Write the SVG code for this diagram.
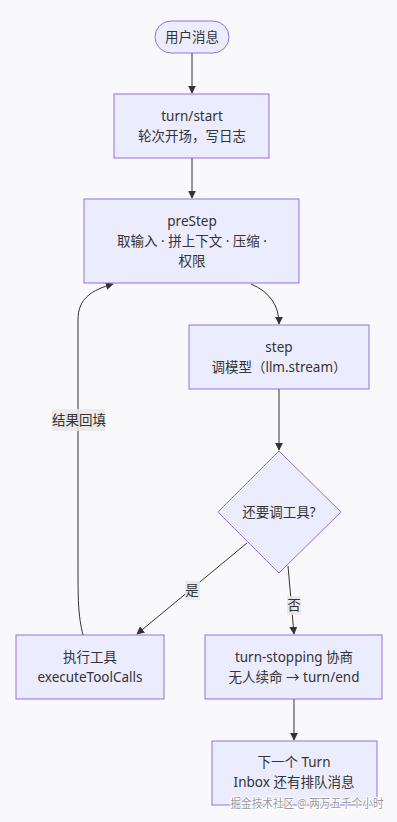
<svg xmlns="http://www.w3.org/2000/svg" width="397" height="822" viewBox="0 0 397 822">
<style>
.node rect,.node polygon{fill:#ECECFF;stroke:#9370DB;stroke-width:1}
text{font-family:"Noto Sans","Noto Sans CJK SC",sans-serif;font-size:13.5px;fill:#333;text-anchor:middle}
.edge{fill:none;stroke:#333;stroke-width:1}
.lbl{fill:#e8e8e8;opacity:0.85}
</style>
<defs>
<marker id="arr" viewBox="0 0 10 10" refX="9" refY="5" markerWidth="8" markerHeight="8" markerUnits="userSpaceOnUse" orient="auto">
<path d="M0,0 L10,5 L0,10 z" fill="#333"/>
</marker>
</defs>
<rect x="0" y="0" width="397" height="822" fill="#f9f9fc"/>
<g id="edges">
<path class="edge" d="M192,53 L192,93" marker-end="url(#arr)"/>
<path class="edge" d="M192,158 L192,198" marker-end="url(#arr)"/>
<path class="edge" d="M251,284 Q279,296 279,324" marker-end="url(#arr)"/>
<path class="edge" d="M279,389 L279,450" marker-end="url(#arr)"/>
<path class="edge" d="M247,543 L137,634" marker-end="url(#arr)"/>
<path class="edge" d="M288,566 L294,634" marker-end="url(#arr)"/>
<path class="edge" d="M83,635 C78,615 78,600 78,560 L78,320 C78,298 92,290 113,284" marker-end="url(#arr)"/>
<path class="edge" d="M294,699 L294,740" marker-end="url(#arr)"/>
<rect class="lbl" x="52" y="409" width="53" height="22"/>
<text x="79" y="425">结果回填</text>
<rect class="lbl" x="185" y="581" width="15" height="19"/>
<text x="192" y="595">是</text>
<rect class="lbl" x="287" y="596" width="14" height="19"/>
<text x="294" y="610">否</text>
</g>
<g id="n_user" class="node">
<rect x="155" y="21" width="74" height="32" rx="16" ry="16"/>
<text x="192" y="42">用户消息</text>
</g>
<g id="n_turnstart" class="node">
<rect x="114" y="94" width="155" height="64"/>
<text x="192" y="121">turn/start</text>
<text x="192" y="141">轮次开场，写日志</text>
</g>
<g id="n_prestep" class="node">
<rect x="84" y="199" width="215" height="84"/>
<text x="192" y="226">preStep</text>
<text x="192" y="246">取输入 · 拼上下文 · 压缩 ·</text>
<text x="192" y="266">权限</text>
</g>
<g id="n_step" class="node">
<rect x="189" y="325" width="180" height="64"/>
<text x="279" y="352">step</text>
<text x="279" y="372">调模型（llm.stream）</text>
</g>
<g id="n_decide" class="node">
<polygon points="279,451 341,512 279,573 218,512"/>
<text x="279" y="517">还要调工具?</text>
</g>
<g id="n_exec" class="node">
<rect x="16" y="635" width="148" height="64"/>
<text x="90" y="662">执行工具</text>
<text x="90" y="682">executeToolCalls</text>
</g>
<g id="n_stop" class="node">
<rect x="205" y="635" width="177" height="64"/>
<text x="294" y="662">turn-stopping 协商</text>
<text x="294" y="682">无人续命 → turn/end</text>
</g>
<g id="n_next" class="node">
<rect x="212" y="741" width="165" height="64"/>
<text x="294" y="767">下一个 Turn</text>
<text x="294" y="787">Inbox 还有排队消息</text>
</g>
<text x="307" y="808" textLength="153" lengthAdjust="spacingAndGlyphs" style="font-size:12px;fill:#999;stroke:#fff;stroke-width:2;paint-order:stroke">掘金技术社区 @ 两万五千个小时</text>
</svg>
